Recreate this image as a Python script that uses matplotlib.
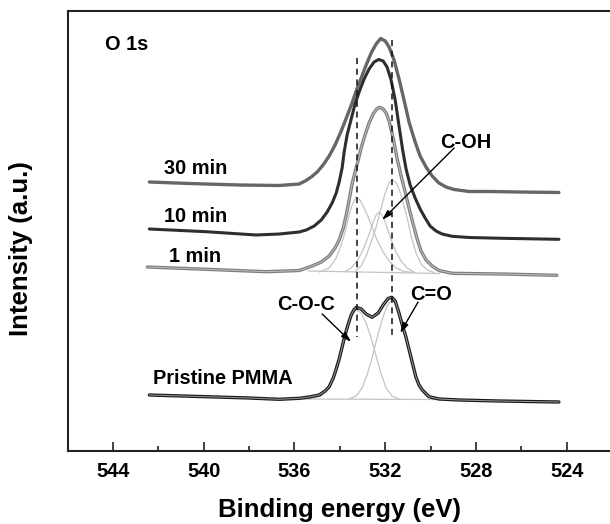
import matplotlib
matplotlib.use("Agg")
import matplotlib.pyplot as plt
from matplotlib.ticker import MultipleLocator

plt.rcParams['font.family'] = ['Liberation Sans', 'DejaVu Sans']
plt.rcParams['font.weight'] = 'bold'

# ---------------- data (binding energy in eV, intensity in a.u.) ----------------
e_30 = [542.40, 540.64, 538.44, 536.67, 535.79, 535.53, 535.26, 535.00, 534.74, 534.47,
        534.21, 533.94, 533.68, 533.46, 533.28, 533.06, 532.84, 532.62, 532.40, 532.20,
        532.00, 531.83, 531.61, 531.39, 531.17, 530.95, 530.68, 530.46, 530.20, 529.93,
        529.63, 529.32, 528.96, 528.30, 527.42, 526.10, 524.34]
i_30 = [269, 267.5, 266, 265.5, 267, 270, 274, 279, 286, 295,
        306, 320, 335, 348, 360, 373, 386, 398, 407, 412.5,
        410, 404, 391, 372, 351, 329, 309, 295, 284, 275,
        268, 264, 261.5, 259.5, 259.5, 259, 258.5]

e_10 = [542.40, 539.89, 537.69, 536.67, 535.79, 535.48, 535.13, 534.82, 534.56, 534.34,
        534.16, 534.03, 533.90, 533.81, 533.68, 533.50, 533.33, 533.15, 532.93, 532.71,
        532.49, 532.29, 532.09, 531.92, 531.74, 531.56, 531.39, 531.23, 531.08, 530.90,
        530.68, 530.46, 530.24, 530.02, 529.76, 529.49, 529.05, 528.30, 526.85, 524.34]
i_10 = [222, 219.3, 216, 217, 219, 221, 225, 231, 239, 248,
        258, 269, 283, 299, 316, 332, 347, 359, 372, 382,
        389, 391.5, 390, 384, 371, 351, 325, 301, 282, 266,
        253, 242, 233, 225, 220, 217, 214.7, 213.5, 212.7, 211.7]

e_1 = [542.49, 539.89, 537.25, 535.79, 535.22, 534.82, 534.47, 534.21, 534.03, 533.85,
       533.72, 533.59, 533.46, 533.33, 533.19, 533.06, 532.89, 532.71, 532.53, 532.38,
       532.25, 532.09, 531.96, 531.83, 531.65, 531.48, 531.30, 531.12, 530.95, 530.77,
       530.59, 530.42, 530.20, 529.93, 529.63, 529.05, 526.85, 524.43]
i_1 = [184, 181.7, 179.3, 180.5, 185, 189, 195, 203, 211, 223,
       236, 251, 267, 279, 291, 303, 316, 328, 337, 342,
       343.7, 342, 338, 330, 313, 293, 275, 259, 243, 227,
       212, 200, 191, 185, 180.5, 177.7, 177, 175.7]

# 1 min fitted components
e_1_coc = [534.91, 534.47, 534.16, 533.94, 533.77, 533.59, 533.46, 533.28, 533.11, 532.93,
           532.75, 532.58, 532.36, 532.09, 531.83, 531.52, 531.17, 530.73]
i_1_coc = [179, 183, 193, 206, 219, 236, 246, 254, 251, 243,
           234, 224, 211, 199, 190, 183, 179.5, 178.5]
e_1_coh = [533.81, 533.50, 533.24, 533.02, 532.84, 532.66, 532.53, 532.40, 532.27, 532.14,
           532.00, 531.87, 531.70, 531.52, 531.30, 531.03, 530.73]
i_1_coh = [179, 183, 190, 199, 209, 220, 229, 236, 239, 236,
           229, 220, 209, 199, 190, 183, 179]
e_1_co = [533.37, 533.06, 532.84, 532.62, 532.40, 532.18, 532.00, 531.83, 531.67, 531.52,
          531.34, 531.17, 531.01, 530.86, 530.64, 530.42, 530.15, 529.85]
i_1_co = [179, 185, 195, 209, 224, 243, 258, 268, 271, 268,
          259, 245, 231, 215, 198, 187, 181, 178.5]
e_1_base = [535.40, 529.60]
i_1_base = [180, 177.5]

e_pm = [542.40, 539.89, 538.00, 536.67, 535.79, 535.35, 534.91, 534.65, 534.47, 534.29,
        534.16, 534.03, 533.90, 533.77, 533.63, 533.50, 533.37, 533.27, 533.06, 532.84,
        532.58, 532.31, 532.09, 531.87, 531.71, 531.56, 531.39, 531.26, 531.09, 530.87,
        530.65, 530.51, 530.36, 530.07, 529.63, 528.74, 526.98, 524.34]
i_pm = [56, 54.3, 53, 51.7, 52.7, 54, 56, 60, 64.3, 73,
        82, 92, 104, 116, 127, 136, 141.5, 143.7, 142, 137,
        133.7, 138, 146, 152.5, 153.7, 150, 137.7, 127, 114.3, 94.3,
        74.3, 66, 61, 54.3, 52, 51, 50, 49]

# pristine fitted components
e_pm_coc = [535.35, 534.82, 534.47, 534.21, 533.99, 533.81, 533.63, 533.46, 533.27, 533.06,
            532.84, 532.62, 532.40, 532.18, 531.96, 531.70, 531.39]
i_pm_coc = [52, 55, 63, 77, 93, 111, 126, 137, 141, 138,
            128, 113, 95, 77, 63, 55, 52]
e_pm_co = [533.59, 533.28, 533.02, 532.80, 532.58, 532.36, 532.14, 531.92, 531.71, 531.52,
           531.34, 531.19, 531.03, 530.86, 530.66, 530.46, 530.20, 529.85]
i_pm_co = [52, 55, 63, 76, 93, 113, 131, 145, 151, 147,
           133, 121, 108, 93, 75, 62, 55, 52]
e_pm_base = [535.80, 529.60]
i_pm_base = [52, 51.5]

peak_positions = [533.26, 531.68]
peak_line_tops = [393, 411]
peak_line_bottom = 114

xticks_major = [544, 540, 536, 532, 528, 524]

# ---------------- figure ----------------
fig = plt.figure(figsize=(6.10, 5.24), dpi=100)
ax = fig.add_axes([67.7 / 610, 73 / 524, 544.3 / 610, 440 / 524])
ax.set_xlim(546, 522)
ax.set_ylim(0, 440)

comp_kw = dict(color='#c4c4c4', lw=0.9, zorder=2)
for e, i in [(e_1_coc, i_1_coc), (e_1_coh, i_1_coh), (e_1_co, i_1_co), (e_1_base, i_1_base),
             (e_pm_coc, i_pm_coc), (e_pm_co, i_pm_co), (e_pm_base, i_pm_base)]:
    ax.plot(e, i, **comp_kw)

ax.plot(e_30, i_30, color='#666666', lw=2.4, zorder=4, solid_capstyle='round')
ax.plot(e_10, i_10, color='#2e2e2e', lw=2.2, zorder=4, solid_capstyle='round')
ax.plot(e_1, i_1, color='#7c7c7c', lw=2.4, zorder=4, solid_capstyle='round')
ax.plot(e_1, i_1, color='#c0c0c0', lw=0.7, zorder=5)
ax.plot(e_pm, i_pm, color='#1a1a1a', lw=2.4, zorder=4, solid_capstyle='round')
ax.plot(e_pm, i_pm, color='#9a9a9a', lw=0.7, zorder=5)

for xp, top in zip(peak_positions, peak_line_tops):
    ax.plot([xp, xp], [top, peak_line_bottom], color='#111111', lw=1.1,
            dashes=(4, 3), zorder=6)

fs = 14.4
ax.text(544.36, 406, 'O 1s', fontsize=fs, fontweight='bold', ha='left', va='center')
ax.text(541.74, 283, '30 min', fontsize=fs, fontweight='bold', ha='left', va='center')
ax.text(541.74, 234.3, '10 min', fontsize=fs, fontweight='bold', ha='left', va='center')
ax.text(541.52, 195, '1 min', fontsize=fs, fontweight='bold', ha='left', va='center')
ax.text(542.26, 72.7, 'Pristine PMMA', fontsize=fs, fontweight='bold', ha='left', va='center')
ax.text(528.44, 309, 'C-OH', fontsize=fs, fontweight='bold', ha='center', va='center')
ax.text(535.48, 146, 'C-O-C', fontsize=fs, fontweight='bold', ha='center', va='center')
ax.text(529.98, 157, 'C=O', fontsize=fs, fontweight='bold', ha='center', va='center')

arrow_kw = dict(arrowstyle='-|>,head_length=0.6,head_width=0.18', color='black', lw=1.0,
                shrinkA=0, shrinkB=0)
ax.annotate('', xy=(532.14, 231), xytext=(528.96, 303), arrowprops=arrow_kw, zorder=7)
ax.annotate('', xy=(533.50, 109), xytext=(534.78, 137), arrowprops=arrow_kw, zorder=7)
ax.annotate('', xy=(531.34, 118), xytext=(530.55, 149), arrowprops=arrow_kw, zorder=7)

ax.set_xticks(xticks_major)
ax.set_xticklabels([str(t) for t in xticks_major])
ax.xaxis.set_minor_locator(MultipleLocator(2))
ax.set_yticks([])
ax.tick_params(axis='x', which='major', direction='in', length=6.5, width=1.2,
               labelsize=fs, pad=8, color='#222222')
ax.tick_params(axis='x', which='minor', direction='in', length=3.6, width=1.2,
               color='#222222')
for lab in ax.get_xticklabels():
    lab.set_fontweight('bold')

for s in ['left', 'top', 'bottom', 'right']:
    ax.spines[s].set_linewidth(1.5)
    ax.spines[s].set_color('#222222')

ax.set_xlabel('Binding energy (eV)', fontsize=18.5, fontweight='bold', labelpad=12)
ax.set_ylabel('Intensity (a.u.)', fontsize=18.5, fontweight='bold')
ax.yaxis.set_label_coords(-0.064, 0.46)

fig.savefig('out.png', dpi=100)
